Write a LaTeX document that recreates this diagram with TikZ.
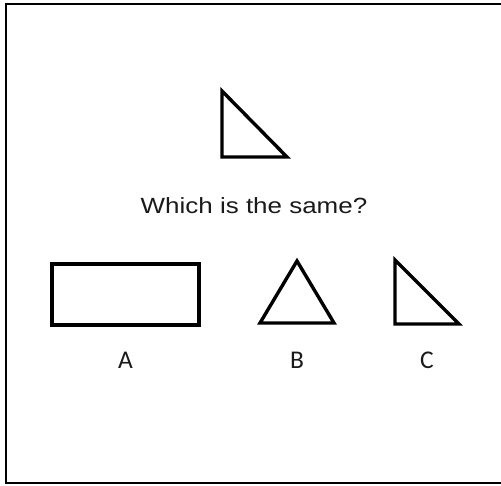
\documentclass[tikz,border=0pt]{standalone}
\usepackage{fontspec}
\setmainfont{Liberation Sans}
\newfontfamily\promptfont[FakeStretch=1.18]{Liberation Sans}
\newfontfamily\choicefont{Carlito}
\usetikzlibrary{positioning}
\definecolor{clrline}{HTML}{000000}
\definecolor{clrtext}{HTML}{1A1A1A}

\begin{document}
\begin{tikzpicture}[
    x=1pt, y=-1pt,
    figline/.style={draw=clrline, line width=3.4pt},
    frameline/.style={draw=clrline, line width=2.2pt},
    prompt/.style={font=\promptfont\fontsize{22}{26}\selectfont, text=clrtext, inner sep=0, anchor=base},
    choice/.style={font=\choicefont\fontsize{25.5}{30}\selectfont, text=clrtext, inner sep=0, anchor=base},
]
\useasboundingbox (0,0) rectangle (501,485);
\clip (0,0) rectangle (501,485);
\draw[frameline] (6,4) rectangle (520,483);
% target shape
\coordinate (t_top) at (222,91);
\coordinate (t_left) at (222,157);
\coordinate (t_right) at (287,157);
\draw[figline] (t_top) -- (t_left) -- (t_right) -- cycle;
\node[prompt] (question) at (254,213.5) {Which is the same?};
% choices
\draw[figline] (52,264) rectangle (199,325);
\coordinate (b_top) at (297,261);
\coordinate (b_left) at (260,323);
\coordinate (b_right) at (334,323);
\draw[figline] (b_top) -- (b_left) -- (b_right) -- cycle;
\coordinate (c_top) at (395,260);
\coordinate (c_left) at (395,324);
\coordinate (c_right) at (459,324);
\draw[figline] (c_top) -- (c_left) -- (c_right) -- cycle;
\node[choice] (lbl_a) at (125.5,368) {A};
\node[choice] (lbl_b) at (297,368) {B};
\node[choice] (lbl_c) at (427,368) {C};
\end{tikzpicture}
\end{document}
